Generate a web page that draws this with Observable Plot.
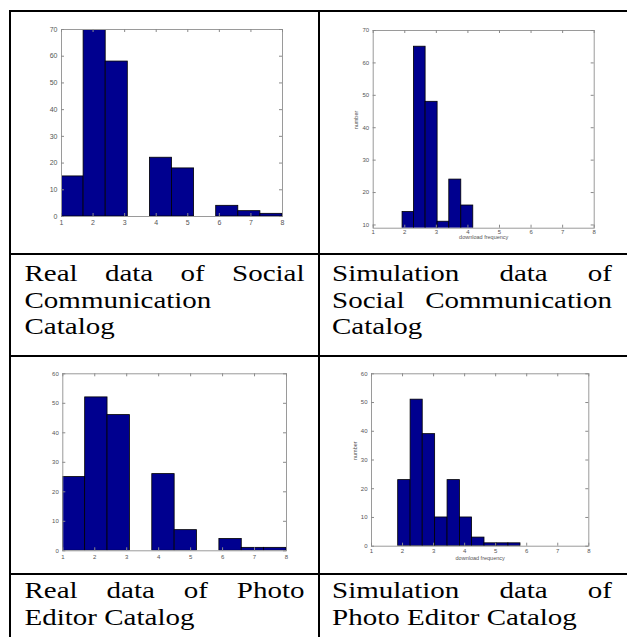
<!DOCTYPE html>
<html>
<head>
<meta charset="utf-8">
<script src="https://cdn.jsdelivr.net/npm/d3@7"></script>
<script src="https://cdn.jsdelivr.net/npm/@observablehq/plot@0.6"></script>
<style>
  html, body { margin: 0; padding: 0; background: #fff; }
  #page { position: relative; width: 627px; height: 637px; overflow: hidden; background: #fff; }
  .chart { position: absolute; }
  .chart svg { background: transparent !important; display: block; }
  .rule { position: absolute; background: #000; }
  .cap { position: absolute; width: 280px; font-family: "Liberation Serif", "Times New Roman", Tinos, Times, serif;
         font-size: 29px; line-height: 32.1px; color: #000; transform: scaleY(0.82); transform-origin: 0 0;
         white-space: nowrap; }
  .cap .j { text-align: justify; text-align-last: justify; }
</style>
</head>
<body>
<div id="page"></div>
<script>
// ---------- data ----------
const xTicks = [1, 2, 3, 4, 5, 6, 7, 8];

// Real data of Social Communication Catalog
const socialRealEdges  = [1, 1.7, 2.4, 3.1, 3.8, 4.5, 5.2, 5.9, 6.6, 7.3, 8];
const socialRealCounts = [15, 70, 58, 0, 22, 18, 0, 4, 2, 1];
const socialRealYTicks = [0, 10, 20, 30, 40, 50, 60, 70];
const socialRealYDomain = [0, 70];

// Simulation data of Social Communication Catalog
const socialSimEdges  = [1.93, 2.29, 2.66, 3.04, 3.41, 3.79, 4.17];
const socialSimCounts = [14, 65, 48, 11, 24, 16];
const socialSimYTicks = [10, 20, 30, 40, 50, 60, 70];
const socialSimYDomain = [9, 70];

// Real data of Photo Editor Catalog
const photoRealEdges  = [1, 1.7, 2.4, 3.1, 3.8, 4.5, 5.2, 5.9, 6.6, 7.3, 8];
const photoRealCounts = [25, 52, 46, 0, 26, 7, 0, 4, 1, 1];
const photoRealYTicks = [0, 10, 20, 30, 40, 50, 60];
const photoRealYDomain = [0, 60];

// Simulation data of Photo Editor Catalog
const photoSimEdges  = [1.86, 2.26, 2.65, 3.05, 3.45, 3.85, 4.24, 4.64, 5.03, 5.41, 5.80];
const photoSimCounts = [23, 51, 39, 10, 23, 10, 3, 1, 1, 1];
const photoSimYTicks = [0, 10, 20, 30, 40, 50, 60];
const photoSimYDomain = [0, 60];

const xLabelText = "download frequency";
const yLabelText = "number";

const captions = [
  {left: 24.5, top: 259.5, lines: [["Real data of Social", true], ["Communication", false], ["Catalog", false]]},
  {left: 332,  top: 259.5, lines: [["Simulation data of", true], ["Social Communication", true], ["Catalog", false]]},
  {left: 24.5, top: 577.1, lines: [["Real data of Photo", true], ["Editor Catalog", false]]},
  {left: 332,  top: 577.1, lines: [["Simulation data of", true], ["Photo Editor Catalog", false]]}
];

// ---------- drawing ----------
const page = document.getElementById("page");

function hist(o) {
  const bins = o.counts.map((c, i) => ({x1: o.edges[i], x2: o.edges[i + 1], y: c}));
  const [mt, mr, mb, ml] = o.m;
  const innerH = o.height - mt - mb;
  const innerW = o.width - ml - mr;
  const t = 3;
  const tc = "#8a8a8a";
  const marks = [
    Plot.rectY(bins, {x1: "x1", x2: "x2", y: "y", fill: "#00008f", stroke: "#000", strokeWidth: 0.8, clip: true}),
    Plot.frame({stroke: "#9a9a9a", strokeWidth: 1}),
    Plot.ruleX(xTicks, {x: d => d, insetTop: innerH - t, stroke: tc}),
    Plot.ruleX(xTicks, {x: d => d, insetBottom: innerH - t, stroke: tc}),
    Plot.ruleY(o.yTicks, {y: d => d, insetRight: innerW - t, stroke: tc}),
    Plot.ruleY(o.yTicks, {y: d => d, insetLeft: innerW - t, stroke: tc}),
    Plot.axisX({ticks: xTicks, tickSize: 0, tickPadding: o.xPad, fontSize: o.fs, color: "#555", label: null, tickFormat: d => String(d)}),
    Plot.axisY({ticks: o.yTicks, tickSize: 0, tickPadding: 4, fontSize: o.fs, color: "#555", label: null, tickFormat: d => String(d)})
  ];
  if (o.labels) {
    marks.push(Plot.text([yLabelText], {frameAnchor: "left", dx: o.labelDx, rotate: -90, fontSize: 5.5, fill: "#555"}));
    marks.push(Plot.text([xLabelText], {frameAnchor: "bottom", dy: o.labelDy, fontSize: 5.5, fill: "#555"}));
  }
  const svg = Plot.plot({
    width: o.width, height: o.height,
    marginTop: mt, marginRight: mr, marginBottom: mb, marginLeft: ml,
    x: {domain: [1, 8]},
    y: {domain: o.yDomain},
    style: {fontFamily: "'Liberation Sans', Arial, sans-serif", background: "transparent"},
    marks
  });
  const wrap = document.createElement("div");
  wrap.className = "chart";
  wrap.style.left = o.left + "px";
  wrap.style.top = o.top + "px";
  wrap.appendChild(svg);
  page.appendChild(wrap);
}

hist({edges: socialRealEdges, counts: socialRealCounts, yTicks: socialRealYTicks, yDomain: socialRealYDomain,
      left: 11, top: 12, width: 307, height: 241, m: [17, 36, 37, 50], fs: 7, xPad: 3.5});
hist({edges: socialSimEdges, counts: socialSimCounts, yTicks: socialSimYTicks, yDomain: socialSimYDomain,
      left: 320, top: 12, width: 307, height: 241, m: [18, 33.3, 25.3, 52.7], fs: 6, xPad: 1.5,
      labels: true, labelDx: -17, labelDy: 10.5});
hist({edges: photoRealEdges, counts: photoRealCounts, yTicks: photoRealYTicks, yDomain: photoRealYDomain,
      left: 11, top: 356, width: 307, height: 217, m: [17.3, 32, 22.7, 51.3], fs: 6, xPad: 4});
hist({edges: photoSimEdges, counts: photoSimCounts, yTicks: photoSimYTicks, yDomain: photoSimYDomain,
      left: 320, top: 356, width: 307, height: 217, m: [17.3, 38.7, 27.3, 51], fs: 6, xPad: 2.5,
      labels: true, labelDx: -16, labelDy: 14});

// table rules
[
  [9, 10, 620, 2], [9, 10, 2, 630], [318, 10, 2, 630],
  [9, 253, 620, 2], [9, 354.5, 620, 2], [9, 573, 620, 2]
].forEach(([l, t, w, h]) => {
  const d = document.createElement("div");
  d.className = "rule";
  Object.assign(d.style, {left: l + "px", top: t + "px", width: w + "px", height: h + "px"});
  page.appendChild(d);
});

// captions
captions.forEach(c => {
  const d = document.createElement("div");
  d.className = "cap";
  d.style.left = c.left + "px";
  d.style.top = c.top + "px";
  c.lines.forEach(([txt, just]) => {
    const ln = document.createElement("div");
    if (just) ln.className = "j";
    ln.textContent = txt;
    d.appendChild(ln);
  });
  page.appendChild(d);
});
</script>
</body>
</html>
